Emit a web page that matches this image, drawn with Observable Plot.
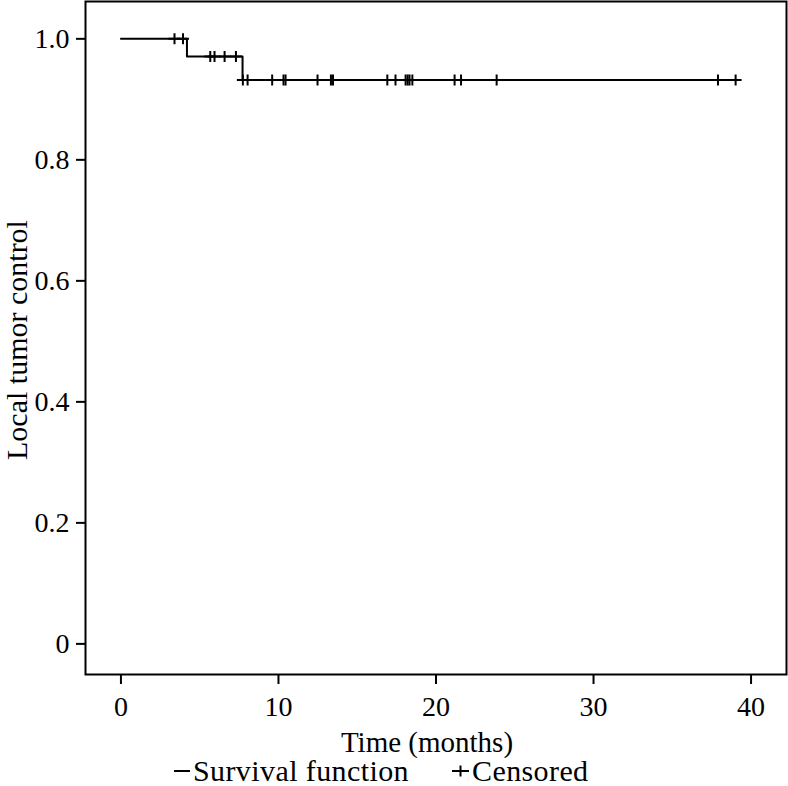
<!DOCTYPE html>
<html>
<head>
<meta charset="utf-8">
<script src="https://cdn.jsdelivr.net/npm/d3@7"></script>
<script src="https://cdn.jsdelivr.net/npm/@observablehq/plot@0.6"></script>
<style>
  html, body { margin: 0; padding: 0; background: #fff; }
  #wrap { width: 788px; }
  .legend { position: relative; height: 26px; font-family: "Liberation Serif", serif; font-size: 30px; letter-spacing: 0.4px; color: #000; }
  .legend .item { position: absolute; top: 0; display: flex; align-items: center; height: 26px; line-height: 26px; white-space: nowrap; }
  .legend svg { display: block; margin-right: 3px; }
</style>
</head>
<body>
<div id="wrap"></div>
<script>
// Kaplan–Meier step values
const eventTimes = [0, 4.19, 7.72];
const survivalValues = [1.0, 0.971, 0.932];
const followUpEnd = 39.02;
// Censored observation times (months)
const censoredTimes = [3.40, 3.94, 5.67, 5.94, 6.58, 7.30, 7.74, 8.04, 9.60, 10.32, 10.45, 12.48, 13.33, 13.46,
  16.91, 17.43, 18.07, 18.20, 18.32, 18.50, 21.18, 21.59, 23.85, 37.90, 39.02];
// Axis ticks
const xTicks = [0, 10, 20, 30, 40];
const yTicks = [0, 0.2, 0.4, 0.6, 0.8, 1.0];
const yTickLabels = ["0", "0.2", "0.4", "0.6", "0.8", "1.0"];
const xLabel = "Time (months)";
const yLabel = "Local tumor control";
const legendLabels = ["Survival function", "Censored"];

const steps = eventTimes.map((t, i) => ({t, s: survivalValues[i]}));
steps.push({t: followUpEnd, s: survivalValues[survivalValues.length - 1]});

function survivalAt(t) {
  let s = survivalValues[0];
  for (let i = 0; i < eventTimes.length; i++) if (eventTimes[i] <= t) s = survivalValues[i];
  return s;
}
const censored = censoredTimes.map(t => ({t, s: survivalAt(t)}));

const plusSymbol = {
  draw(ctx) {
    ctx.moveTo(-6, 0); ctx.lineTo(6, 0);
    ctx.moveTo(0, -5.5); ctx.lineTo(0, 5.5);
  }
};

const chart = Plot.plot({
  width: 788,
  height: 758,
  marginLeft: 85,
  marginRight: 2,
  marginTop: 1,
  marginBottom: 84,
  style: {fontFamily: "Liberation Serif, serif", fontSize: "28px", color: "#000", background: "#fff"},
  x: {domain: [-2.25, 42.25]},
  y: {domain: [-0.0506, 1.0617]},
  marks: [
    Plot.frame({stroke: "#000", strokeWidth: 2}),
    Plot.axisX({ticks: xTicks, tickSize: 10, tickPadding: 12, strokeWidth: 2, label: null, fontSize: 28}),
    Plot.axisY({ticks: yTicks, tickFormat: d => yTickLabels[yTicks.indexOf(d)], tickSize: 9, tickPadding: 7, strokeWidth: 2, label: null, fontSize: 28}),
    Plot.text([xLabel], {text: d => d, frameAnchor: "bottom", dy: 68, dx: -9, lineAnchor: "middle", fontSize: 29}),
    Plot.text([yLabel], {text: d => d, frameAnchor: "left", textAnchor: "middle", dx: -68, dy: 2, rotate: -90, lineAnchor: "middle", fontSize: 30}),
    Plot.line(steps, {x: "t", y: "s", curve: "step-after", stroke: "#000", strokeWidth: 2}),
    Plot.dot(censored, {x: "t", y: "s", symbol: plusSymbol, fill: "none", stroke: "#000", strokeWidth: 2})
  ]
});
const wrap = document.getElementById("wrap");
wrap.appendChild(chart);

const legend = document.createElement("div");
legend.className = "legend";
legend.style.marginTop = "0px";
legend.innerHTML = `
  <div class="item" style="left:174px"><svg width="16" height="12"><line x1="0" y1="6" x2="16" y2="6" stroke="#000" stroke-width="2"/></svg><span>${legendLabels[0]}</span></div>
  <div class="item" style="left:452px"><svg width="17" height="12"><line x1="0" y1="6" x2="17" y2="6" stroke="#000" stroke-width="2"/><line x1="8.5" y1="0.5" x2="8.5" y2="11.5" stroke="#000" stroke-width="2"/></svg><span>${legendLabels[1]}</span></div>`;
wrap.appendChild(legend);
</script>
</body>
</html>
